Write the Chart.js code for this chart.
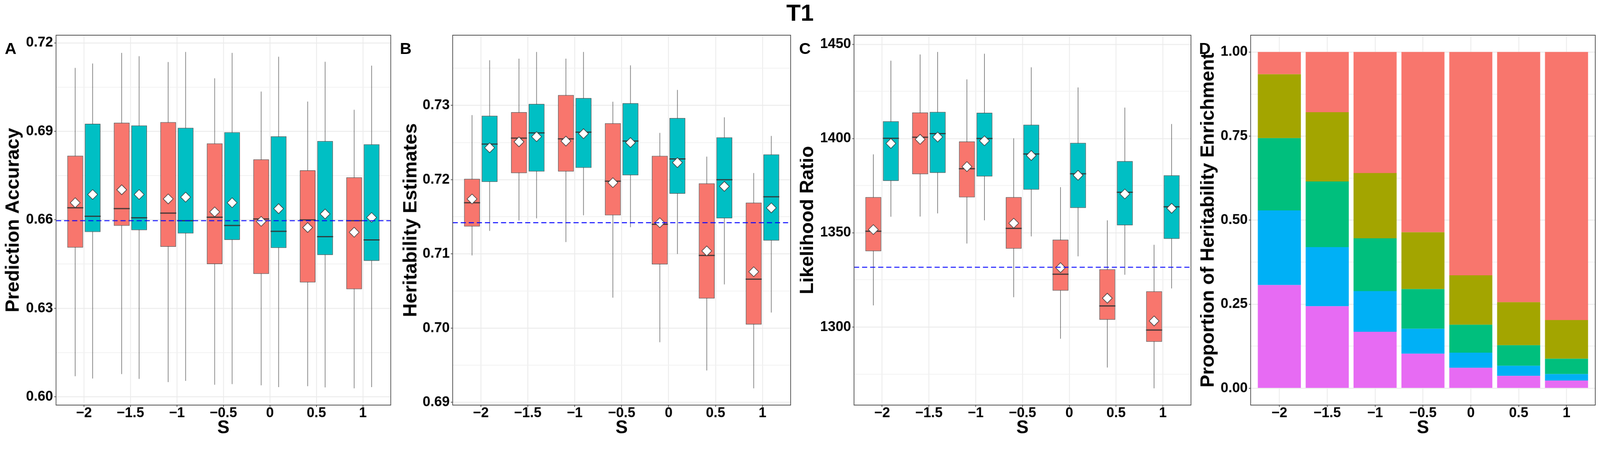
<!DOCTYPE html>
<html>
<head>
<meta charset="utf-8">
<script src="https://cdn.jsdelivr.net/npm/chart.js@4.4.1/dist/chart.umd.min.js"></script>
<style>
  html, body { margin: 0; padding: 0; background: #fff; overflow: hidden; }
  body { font-family: "Liberation Sans", Arial, sans-serif; }
  #page { position: absolute; left: 0; top: 0; width: 4369px; height: 1202px; transform-origin: 0 0; background: #fff; }
  canvas { position: absolute; top: 0; }
  .lbl { position: absolute; top: 110px; font-weight: bold; font-size: 44px; line-height: 44px; color: #000; }
  #title { position: absolute; left: 0; top: 2px; width: 4369px; text-align: center;
           font-weight: bold; font-size: 64px; line-height: 64px; color: #000; }
</style>
</head>
<body>
<div id="page">
  <div id="title">T1</div>
  <canvas id="chartA" width="1092" height="1202" style="left:0px"></canvas>
  <canvas id="chartB" width="1092" height="1202" style="left:1092px"></canvas>
  <canvas id="chartC" width="1093" height="1202" style="left:2184px"></canvas>
  <canvas id="chartD" width="1092" height="1202" style="left:3277px"></canvas>
  <div class="lbl" style="left:13px">A</div>
  <div class="lbl" style="left:1092px">B</div>
  <div class="lbl" style="left:2182px">C</div>
  <div class="lbl" style="left:3274px">D</div>
</div>

<script>
// S levels on the x axis (same for all four panels)
const S_LABELS = ['\u22122', '\u22121.5', '\u22121', '\u22120.5', '0', '0.5', '1'];

// A: Prediction Accuracy
const accRedMin  = [0.6070, 0.6077, 0.6050, 0.6041, 0.6039, 0.6036, 0.6029];
const accRedQ1   = [0.6506, 0.6580, 0.6509, 0.6450, 0.6417, 0.6388, 0.6365];
const accRedMed  = [0.6641, 0.6638, 0.6623, 0.6609, 0.6603, 0.6600, 0.6597];
const accRedQ3   = [0.6817, 0.6929, 0.6931, 0.6859, 0.6805, 0.6768, 0.6744];
const accRedMax  = [0.7115, 0.7166, 0.7135, 0.7080, 0.7035, 0.7001, 0.6973];
const accRedMean = [0.6658, 0.6702, 0.6671, 0.6627, 0.6595, 0.6574, 0.6558];
const accTealMin  = [0.6062, 0.6061, 0.6054, 0.6043, 0.6033, 0.6032, 0.6033];
const accTealQ1   = [0.6559, 0.6565, 0.6554, 0.6532, 0.6505, 0.6481, 0.6461];
const accTealMed  = [0.6612, 0.6607, 0.6597, 0.6581, 0.6561, 0.6543, 0.6532];
const accTealQ3   = [0.6926, 0.6920, 0.6912, 0.6897, 0.6883, 0.6867, 0.6856];
const accTealMax  = [0.7130, 0.7155, 0.7169, 0.7166, 0.7153, 0.7136, 0.7123];
const accTealMean = [0.6686, 0.6686, 0.6677, 0.6658, 0.6638, 0.6620, 0.6608];
const accRef = 0.6597;
const accTicks = [0.60, 0.63, 0.66, 0.69, 0.72];

// B: Heritability Estimates
const herRedMin  = [0.7098, 0.7145, 0.7116, 0.7041, 0.6981, 0.6943, 0.6919];
const herRedQ1   = [0.7137, 0.7209, 0.7211, 0.7152, 0.7086, 0.7040, 0.7005];
const herRedMed  = [0.7169, 0.7256, 0.7255, 0.7198, 0.7140, 0.7098, 0.7066];
const herRedQ3   = [0.7201, 0.7291, 0.7314, 0.7276, 0.7232, 0.7195, 0.7169];
const herRedMax  = [0.7287, 0.7363, 0.7363, 0.7305, 0.7263, 0.7231, 0.7209];
const herRedMean = [0.7174, 0.7251, 0.7252, 0.7196, 0.7142, 0.7104, 0.7076];
const herTealMin  = [0.7131, 0.7148, 0.7152, 0.7136, 0.7100, 0.7059, 0.7021];
const herTealQ1   = [0.7197, 0.7211, 0.7216, 0.7206, 0.7181, 0.7148, 0.7118];
const herTealMed  = [0.7248, 0.7263, 0.7264, 0.7252, 0.7228, 0.7200, 0.7177];
const herTealQ3   = [0.7286, 0.7302, 0.7310, 0.7303, 0.7283, 0.7257, 0.7234];
const herTealMax  = [0.7361, 0.7372, 0.7372, 0.7354, 0.7321, 0.7284, 0.7259];
const herTealMean = [0.7243, 0.7258, 0.7262, 0.7250, 0.7223, 0.7191, 0.7162];
const herRef = 0.7142;
const herTicks = [0.69, 0.70, 0.71, 0.72, 0.73];

// C: Likelihood Ratio
const lrRedMin  = [1311.5, 1358.6, 1344.3, 1315.8, 1293.8, 1278.5, 1267.5];
const lrRedQ1   = [1340.2, 1381.1, 1368.8, 1341.6, 1319.3, 1303.9, 1292.2];
const lrRedMed  = [1350.8, 1400.7, 1384.0, 1352.3, 1328.0, 1311.2, 1298.4];
const lrRedQ3   = [1368.9, 1413.8, 1398.4, 1368.9, 1346.3, 1330.6, 1318.9];
const lrRedMax  = [1391.6, 1444.6, 1431.4, 1400.1, 1374.2, 1356.6, 1343.6];
const lrRedMean = [1351.7, 1399.6, 1385.1, 1355.1, 1331.5, 1315.3, 1303.2];
const lrTealMin  = [1358.5, 1360.3, 1356.6, 1348.1, 1337.5, 1327.7, 1320.5];
const lrTealQ1   = [1377.5, 1381.8, 1379.9, 1372.9, 1363.2, 1354.0, 1346.8];
const lrTealMed  = [1400.1, 1402.6, 1400.0, 1391.8, 1381.3, 1371.5, 1363.8];
const lrTealQ3   = [1409.1, 1414.1, 1413.7, 1407.3, 1397.7, 1388.0, 1380.5];
const lrTealMax  = [1441.3, 1445.9, 1445.0, 1437.8, 1427.1, 1416.4, 1407.7];
const lrTealMean = [1397.4, 1400.8, 1398.8, 1391.0, 1380.5, 1370.6, 1363.0];
const lrRef = 1331.7;
const lrTicks = [1300, 1350, 1400, 1450];

// D: Proportion of Heritability Enrichment (bottom layer first)
const propMagenta = [0.307, 0.244, 0.168, 0.103, 0.061, 0.037, 0.023];
const propBlue    = [0.222, 0.176, 0.121, 0.074, 0.045, 0.030, 0.019];
const propGreen   = [0.215, 0.195, 0.157, 0.118, 0.083, 0.061, 0.046];
const propOlive   = [0.190, 0.206, 0.194, 0.169, 0.147, 0.128, 0.115];
const propRed     = [0.066, 0.179, 0.360, 0.536, 0.664, 0.744, 0.797];
const propTicks = [0, 0.25, 0.5, 0.75, 1];

const RED = '#F8766D', TEAL = '#00BFC4';
const FONT = '"Liberation Sans", Arial, sans-serif';
const DODGE = 0.1875;       // half of a dodge slot (0.75 / 4)
const X_MIN = -0.6, X_MAX = S_LABELS.length - 0.4;

// keep the 4369x1202 page inside the window whatever its css size is
const fit = Math.min(window.innerWidth / 4369, window.innerHeight / 1202);
if (Math.abs(fit - 1) > 0.001) document.getElementById('page').style.transform = `scale(${fit})`;

// ggplot-like frame round the panel
const panelFrame = {
  id: 'panelFrame',
  afterDraw(chart) {
    const { ctx, chartArea: a } = chart;
    ctx.save();
    ctx.strokeStyle = '#4D4D4D';
    ctx.lineWidth = 2;
    ctx.strokeRect(a.left, a.top, a.right - a.left, a.bottom - a.top);
    ctx.restore();
  }
};

function xAxis(stacked) {
  return {
    type: 'linear', min: X_MIN, max: X_MAX, stacked, offset: false,
    afterBuildTicks: s => { s.ticks = S_LABELS.map((_, i) => ({ value: i })); },
    afterFit: s => { s.height = 97; },
    ticks: {
      callback: (v, i) => S_LABELS[i], autoSkip: false, maxRotation: 0, padding: 0,
      color: '#000', font: { family: FONT, size: 38, weight: 'bold', lineHeight: 0.9 }
    },
    grid: { offset: false, color: '#EDEDED', lineWidth: 2.5, tickColor: '#4D4D4D', tickLength: 5, tickWidth: 2 },
    border: { display: false },
    title: {
      display: true, text: 'S', color: '#000', padding: { top: 0, bottom: 9 },
      font: { family: FONT, size: 50, weight: 'bold', lineHeight: 1 }
    }
  };
}

function yAxis(major, lo, hi, width, fmt, text, pad, stacked) {
  const step = major[1] - major[0];
  return {
    min: lo, max: hi, stacked,
    afterBuildTicks: s => {
      const t = [{ value: major[0] - step / 2, major: false }];
      major.forEach(v => {
        t.push({ value: v, major: true });
        t.push({ value: v + step / 2, major: false });
      });
      s.ticks = t.filter(k => k.value >= lo && k.value <= hi);
    },
    afterFit: s => { s.width = width; },
    ticks: {
      callback: (v, i, arr) => arr[i].major ? fmt(v) : '', autoSkip: false, padding: 3,
      color: '#000', font: { family: FONT, size: 38, weight: 'bold' }
    },
    grid: {
      color: c => c.tick && c.tick.major ? '#EBEBEB' : '#F1F1F1',
      lineWidth: c => c.tick && c.tick.major ? 2.5 : 2,
      tickColor: c => c.tick && c.tick.major ? '#4D4D4D' : 'rgba(0,0,0,0)',
      tickLength: 5, tickWidth: 2
    },
    border: { display: false },
    title: {
      display: true, text, color: '#000', padding: { top: pad, bottom: 0 },
      font: { family: FONT, size: 52, weight: 'bold', lineHeight: 0.8 }
    }
  };
}

// 5% expansion of the data range, like ggplot's default
function expand(lo, hi) {
  const d = (hi - lo) * 0.05;
  return [lo - d, hi + d];
}

function boxSets(g, color, stack, shift) {
  const idx = g.q1.map((_, i) => i);
  return {
    box: {
      type: 'bar', stack, order: 4, categoryPercentage: 0.75, barPercentage: 0.9,
      data: idx.map(i => ({ x: i, y: [g.q1[i], g.q3[i]] })),
      backgroundColor: color, borderColor: '#404040', borderWidth: 1.5, borderSkipped: false
    },
    whisker: {
      type: 'bar', stack, order: 5, categoryPercentage: 0.75, barPercentage: 0.026,
      data: idx.map(i => ({ x: i, y: [g.min[i], g.max[i]] })),
      backgroundColor: '#3A3A3A', borderWidth: 0
    },
    median: {
      type: 'scatter', order: 3,
      data: idx.map(i => ({ x: i + shift, y: g.med[i] })),
      pointStyle: 'line', pointRadius: 22, pointBorderColor: '#333333', pointBorderWidth: 3
    },
    mean: {
      type: 'scatter', order: 2,
      data: idx.map(i => ({ x: i + shift, y: g.mean[i] })),
      pointStyle: 'rectRot', pointRadius: 13.5, pointBackgroundColor: '#FFFFFF',
      pointBorderColor: '#333333', pointBorderWidth: 1.5
    }
  };
}

function boxPanel(id, p) {
  const r = boxSets(p.red, RED, 'r', -DODGE);
  const t = boxSets(p.teal, TEAL, 't', DODGE);
  const all = [].concat(p.red.min, p.red.max, p.teal.min, p.teal.max, p.red.mean, p.teal.mean);
  const [lo, hi] = expand(Math.min(...all), Math.max(...all));
  new Chart(document.getElementById(id), {
    type: 'bar',
    data: {
      datasets: [
        r.box, t.box, r.whisker, t.whisker, r.median, t.median, r.mean, t.mean,
        {
          type: 'line', order: 1, data: [{ x: X_MIN, y: p.ref }, { x: X_MAX, y: p.ref }],
          borderColor: '#0000FF', borderWidth: 2.5, borderDash: [14, 8], pointRadius: 0
        }
      ]
    },
    options: {
      responsive: false, animation: false,
      layout: { padding: { top: 96, right: p.rightPad, left: 0, bottom: 0 } },
      plugins: { legend: { display: false }, tooltip: { enabled: false } },
      scales: {
        x: xAxis(undefined),
        y: yAxis(p.ticks, lo, hi, p.yWidth, p.fmt, p.title, p.titlePad, false)
      }
    },
    plugins: [panelFrame]
  });
}

boxPanel('chartA', {
  red:  { min: accRedMin, q1: accRedQ1, med: accRedMed, q3: accRedQ3, max: accRedMax, mean: accRedMean },
  teal: { min: accTealMin, q1: accTealQ1, med: accTealMed, q3: accTealQ3, max: accTealMax, mean: accTealMean },
  ref: accRef, ticks: accTicks, fmt: v => v.toFixed(2),
  title: 'Prediction Accuracy', titlePad: 16, yWidth: 153, rightPad: 1
});

boxPanel('chartB', {
  red:  { min: herRedMin, q1: herRedQ1, med: herRedMed, q3: herRedQ3, max: herRedMax, mean: herRedMean },
  teal: { min: herTealMin, q1: herTealQ1, med: herTealMed, q3: herTealQ3, max: herTealMax, mean: herTealMean },
  ref: herRef, ticks: herTicks, fmt: v => v.toFixed(2),
  title: 'Heritability Estimates', titlePad: 10, yWidth: 144, rightPad: 9
});

boxPanel('chartC', {
  red:  { min: lrRedMin, q1: lrRedQ1, med: lrRedMed, q3: lrRedQ3, max: lrRedMax, mean: lrRedMean },
  teal: { min: lrTealMin, q1: lrTealQ1, med: lrTealMed, q3: lrTealQ3, max: lrTealMax, mean: lrTealMean },
  ref: lrRef, ticks: lrTicks, fmt: v => String(v),
  title: 'Likelihood Ratio', titlePad: 1, yWidth: 148, rightPad: 7
});

// D: stacked proportions
const propLayers = [
  { data: propMagenta, color: '#E76BF3' },
  { data: propBlue,    color: '#00B0F6' },
  { data: propGreen,   color: '#00BF7D' },
  { data: propOlive,   color: '#A3A500' },
  { data: propRed,     color: '#F8766D' }
];
const [dLo, dHi] = expand(0, 1);

new Chart(document.getElementById('chartD'), {
  type: 'bar',
  data: {
    datasets: propLayers.map(l => ({
      data: l.data.map((v, i) => ({ x: i, y: v })),
      backgroundColor: l.color, borderWidth: 0,
      categoryPercentage: 1, barPercentage: 0.9
    }))
  },
  options: {
    responsive: false, animation: false,
    layout: { padding: { top: 96, right: 13, left: 0, bottom: 0 } },
    plugins: { legend: { display: false }, tooltip: { enabled: false } },
    scales: {
      x: xAxis(true),
      y: yAxis(propTicks, dLo, dHi, 138, v => v.toFixed(2), 'Proportion of Heritability Enrichment', 2, true)
    }
  },
  plugins: [panelFrame]
});
</script>
</body>
</html>
